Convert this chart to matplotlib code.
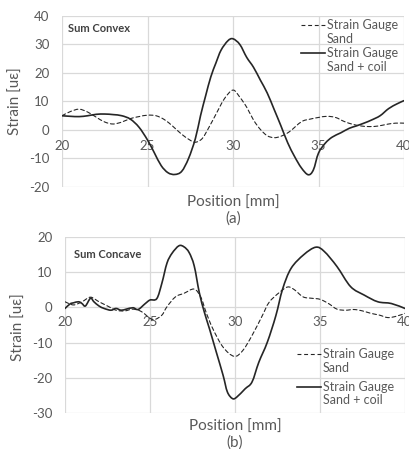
import numpy as np
import matplotlib
matplotlib.use("Agg")
import matplotlib.pyplot as plt
from matplotlib.lines import Line2D
from matplotlib.path import Path
from matplotlib.patches import PathPatch

plt.rcParams['font.family'] = ['Lato', 'DejaVu Sans']

# (a) Sum Convex
convex_sand_x = [20, 20.5, 21, 21.5, 22, 22.5, 23, 23.5, 24, 24.5,
                 25, 25.5, 26, 26.5, 27, 27.5, 27.8, 28.2, 28.6, 29,
                 29.5, 30, 30.4, 30.8, 31.2, 31.6, 32, 32.4, 32.8, 33.3,
                 34, 34.5, 35, 35.5, 36, 36.5, 37, 37.5, 38, 38.5,
                 39, 39.5, 40]
convex_sand_y = [5, 6.5, 7.3, 6.3, 4.5, 2.8, 2.1, 2.8, 4.0, 4.7,
                 5.2, 5.0, 3.6, 1.2, -1.5, -3.6, -4.3, -3.0, 1.0, 5.5,
                 11, 14, 11.5, 8, 3.5, 0.2, -2, -2.7, -2.2, -0.6,
                 2.9, 3.8, 4.4, 4.8, 4.4, 3, 2, 1.4, 1.2, 1.4,
                 2, 2.4, 2.4]
convex_coil_x = [20, 20.5, 21, 21.5, 22, 22.5, 23, 23.5, 24, 24.5,
                 25, 25.4, 25.8, 26.2, 26.6, 27, 27.4, 27.8, 28.1, 28.4,
                 28.7, 29, 29.3, 29.7, 30, 30.4, 30.8, 31.2, 31.6, 32,
                 32.4, 32.8, 33.2, 33.6, 34, 34.4, 34.7, 35, 35.4, 35.8,
                 36.3, 36.8, 37.2, 37.7, 38.1, 38.6, 39.1, 39.6, 40]
convex_coil_y = [5, 4.8, 4.7, 5.0, 5.5, 5.6, 5.4, 5.0, 3.8, 1.0,
                 -3.5, -8, -12.5, -15, -15.6, -14.5, -10, -3, 5, 12,
                 18.6, 23.5, 28, 31.3, 32, 30, 25.5, 22, 17.5, 13,
                 7.3, 1.5, -4.5, -9.3, -13.3, -15.7, -14, -8.1, -4.6, -2.5,
                 -1.0, 0.6, 1.4, 2.5, 3.5, 5.0, 7.5, 9.2, 10.3]

# (b) Sum Concave
concave_sand_x = [20, 20.5, 21, 21.5, 22, 22.5, 23, 23.5, 24, 24.5,
                  25, 25.3, 25.7, 26, 26.5, 27, 27.6, 28.0, 28.3, 28.7,
                  29.3, 29.95, 30.45, 31.0, 31.6, 32.0, 32.6, 33.1, 33.5, 34,
                  34.5, 35, 35.5, 36, 36.5, 37, 37.5, 38, 38.5, 39,
                  39.5, 40]
concave_sand_y = [1.6, 0.7, 1.6, 2.9, 1.6, 0.4, -0.8, -1, -0.5, -1.2,
                  -3.1, -3.4, -2.2, 0.2, 3, 4, 5.2, 2.8, -1.4, -6.1,
                  -11.3, -13.9, -12.3, -8, -2.4, 1.4, 4.2, 5.8, 5, 3,
                  2.6, 2.3, 1.1, -0.5, -0.8, -0.6, -1, -1.7, -2.2, -2.9,
                  -2.5, -1.7]
concave_coil_x = [20, 20.3, 20.5, 20.8, 21, 21.2, 21.5, 21.7, 22, 22.3,
                  22.7, 23, 23.3, 23.6, 24, 24.3, 24.7, 25, 25.4, 25.7,
                  26, 26.3, 26.7, 27.0, 27.3, 27.6, 27.9, 28.2, 28.5, 28.9,
                  29.3, 29.55, 29.85, 30.1, 30.6, 31.0, 31.4, 31.9, 32.4, 32.8,
                  33.3, 34.05, 34.75, 35.25, 36, 36.8, 37.6, 38.4, 39.2, 40]
concave_coil_y = [-0.3, 1, 1.3, 1.6, 1.1, 0.4, 2.6, 1.6, 0.4, -0.3,
                  -0.8, -0.3, -0.8, -0.5, -0.1, -0.6, 1, 2.1, 2.5, 6.9,
                  12.6, 15.4, 17.5, 17.2, 15.6, 11.8, 4.2, -1.4, -6.1, -12.7,
                  -19.3, -24, -25.9, -25.5, -23.1, -21.2, -15.6, -9.9, -2.4, 5.2,
                  11.1, 15, 17.1, 15.9, 11.6, 5.9, 3.5, 1.6, 1.1, -0.3]

series_labels = ["Strain Gauge\nSand", "Strain Gauge\nSand + coil"]
x_ticks = [20, 25, 30, 35, 40]

GRID = "#d9d9d9"
TEXT = "#595959"
LINE = "#262626"
DASH = (0, (3.5, 2.5))
LW_SAND = 0.8
LW_COIL = 1.2


def smooth_line(ax, x, y, **kw):
    # Excel-style smoothed line: Catmull-Rom segments drawn as cubic Beziers
    p = np.column_stack([x, y]).astype(float)
    ext = np.vstack([p[0], p, p[-1]])
    verts = [p[0]]
    codes = [Path.MOVETO]
    for i in range(1, len(ext) - 2):
        c1 = ext[i] + (ext[i + 1] - ext[i - 1]) / 6.0
        c2 = ext[i + 1] - (ext[i + 2] - ext[i]) / 6.0
        verts += [c1, c2, ext[i + 1]]
        codes += [Path.CURVE4] * 3
    ax.add_patch(PathPatch(Path(verts, codes), fill=False, capstyle='round',
                           joinstyle='round', **kw))


def style_axes(ax, ylim, yticks, pad):
    ax.set_xlim(20, 40)
    ax.set_ylim(*ylim)
    ax.set_xticks(x_ticks)
    ax.set_yticks(yticks)
    ax.set_axisbelow(True)
    ax.grid(True, color=GRID, linewidth=0.9)
    for s in ax.spines.values():
        s.set_visible(False)
    ax.spines['bottom'].set_position(('data', 0))
    ax.tick_params(axis='both', length=0, labelsize=9.5, colors=TEXT)
    ax.tick_params(axis='x', pad=pad)
    ax.tick_params(axis='y', pad=9)
    for lab in ax.get_xticklabels():
        lab.set_clip_on(False)


def draw_legend(ax, x0, x1, xt, ys, dy):
    styles = [dict(linestyle=DASH, linewidth=LW_SAND), dict(linestyle='-', linewidth=LW_COIL)]
    for label, st, y in zip(series_labels, styles, ys):
        ax.add_line(Line2D([x0, x1], [y, y], transform=ax.transAxes, color=LINE, **st))
        for i, part in enumerate(label.split("\n")):
            ax.text(xt, y - i * dy, part, transform=ax.transAxes, fontsize=9,
                    color=TEXT, va='center', ha='left')


fig = plt.figure(figsize=(4.09, 4.49), dpi=100)

ax1 = fig.add_axes([62 / 409, 1 - 187 / 449, 342 / 409, 171 / 449])
smooth_line(ax1, convex_sand_x, convex_sand_y, edgecolor=LINE, linestyle=DASH, linewidth=LW_SAND)
smooth_line(ax1, convex_coil_x, convex_coil_y, edgecolor=LINE, linewidth=LW_COIL)
style_axes(ax1, (-20, 40), [-20, -10, 0, 10, 20, 30, 40], 7.5)
ax1.set_yticklabels(["-20", "-10", "0", "10", "20", "30", "40"])
ax1.text(0.017, 0.924, "Sum Convex", transform=ax1.transAxes, fontsize=8,
         color="#404040", fontweight='bold', va='center')
draw_legend(ax1, 0.699, 0.769, 0.775, [0.949, 0.785], 0.082)
ax1.text(0.5, -0.094, "Position [mm]", transform=ax1.transAxes, fontsize=11,
         color=TEXT, ha='center', va='center')
ax1.text(0.5, -0.187, "(a)", transform=ax1.transAxes, fontsize=11,
         color=TEXT, ha='center', va='center')
ax1.set_ylabel("Strain [uε]", fontsize=11, color=TEXT)
ax1.yaxis.set_label_coords(-0.115, 0.5)

ax2 = fig.add_axes([65 / 409, 1 - 413 / 449, 340 / 409, 176 / 449])
smooth_line(ax2, concave_sand_x, concave_sand_y, edgecolor=LINE, linestyle=DASH, linewidth=LW_SAND)
smooth_line(ax2, concave_coil_x, concave_coil_y, edgecolor=LINE, linewidth=LW_COIL)
style_axes(ax2, (-30, 20), [-30, -20, -10, 0, 10, 20], 6.5)
ax2.set_yticklabels(["-30", "-20", "-10", "0", "10", "20"])
ax2.text(0.026, 0.903, "Sum Concave", transform=ax2.transAxes, fontsize=8,
         color="#404040", fontweight='bold', va='center')
draw_legend(ax2, 0.682, 0.753, 0.759, [0.335, 0.149], 0.077)
ax2.text(0.5, -0.08, "Position [mm]", transform=ax2.transAxes, fontsize=11,
         color=TEXT, ha='center', va='center')
ax2.text(0.5, -0.17, "(b)", transform=ax2.transAxes, fontsize=11,
         color=TEXT, ha='center', va='center')
ax2.set_ylabel("Strain [uε]", fontsize=11, color=TEXT)
ax2.yaxis.set_label_coords(-0.115, 0.49)

fig.savefig("out.png", dpi=100)
